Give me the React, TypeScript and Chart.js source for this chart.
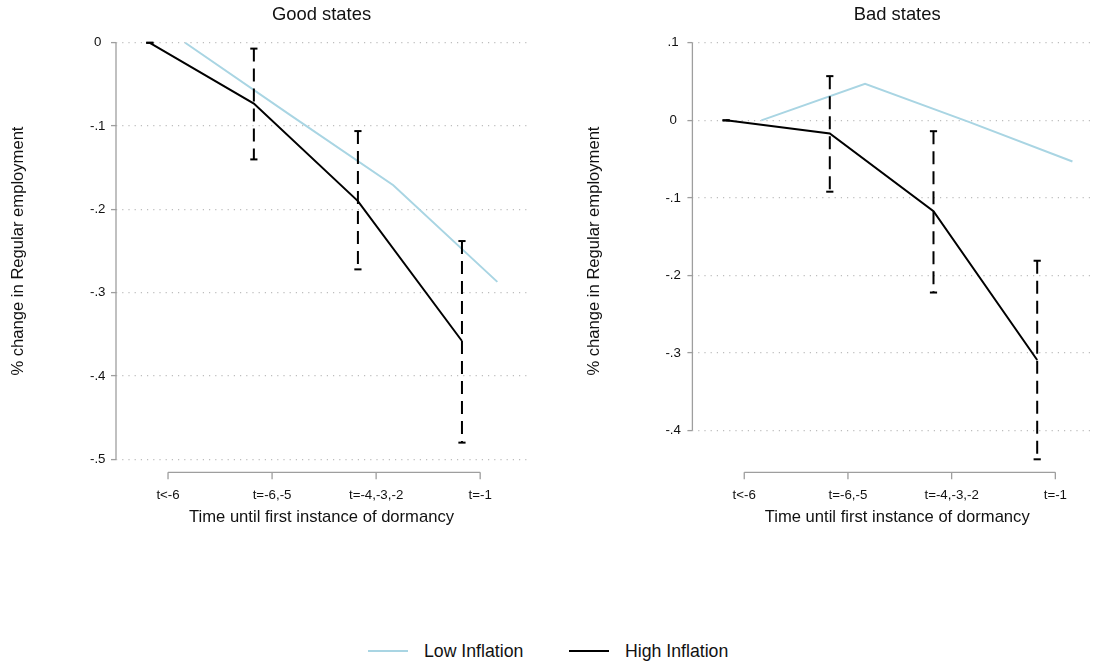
import React, { useEffect, useRef } from "react";
import { Chart, registerables } from "chart.js";

Chart.register(...registerables);

// ---------- data ----------
const categories = ["t<-6", "t=-6,-5", "t=-4,-3,-2", "t=-1"];
const seriesNames = ["Low Inflation", "High Inflation"];
const panelTitles = ["Good states", "Bad states"];
const yAxisTitle = "% change in Regular employment";
const xAxisTitle = "Time until first instance of dormancy";

const goodLow = [0, -0.086, -0.171, -0.287];
const goodHigh = [0, -0.073, -0.19, -0.358];
const goodHighCiLow = [0, -0.14, -0.272, -0.48];
const goodHighCiHigh = [0, -0.007, -0.106, -0.238];
const goodYTicks = [0, -0.1, -0.2, -0.3, -0.4, -0.5];
const goodYTickLabels = ["0", "-.1", "-.2", "-.3", "-.4", "-.5"];

const badLow = [0, 0.047, -0.002, -0.053];
const badHigh = [0, -0.017, -0.117, -0.309];
const badHighCiLow = [0, -0.092, -0.222, -0.437];
const badHighCiHigh = [0, 0.057, -0.014, -0.181];
const badYTicks = [0.1, 0, -0.1, -0.2, -0.3, -0.4];
const badYTickLabels = [".1", "0", "-.1", "-.2", "-.3", "-.4"];

// ---------- style ----------
const FONT = "'Liberation Sans', Arial, sans-serif";
const LIGHT_BLUE = "#a9d5e3";
const BLACK = "#000000";
const AXIS_COLOR = "#9e9e9e";
const GRID_COLOR = "#bdbdbd";
const TEXT_COLOR = "#111111";
const LOW_OFFSET = 0.165;
const HIGH_OFFSET = -0.175;
const CANVAS_H = 540;
const TICK_FONT_SIZE = 13.3;

type PanelSpec = {
  title: string;
  low: number[];
  high: number[];
  ciLow: number[];
  ciHigh: number[];
  yTicks: number[];
  yTickLabels: string[];
  left: number;
  width: number;
  yAxisWidth: number;
  yTitlePad: number;
  yTickPad: number;
  padRight: number;
};

const stataAxes = {
  id: "stataAxes",
  beforeDatasetsDraw(chart: any) {
    const { ctx, chartArea, scales } = chart;
    const x = scales.x;
    const y = scales.y;
    const yv = y.ticks.map((t: any) => t.value);
    const xv = x.ticks.map((t: any) => t.value);
    ctx.save();
    ctx.strokeStyle = AXIS_COLOR;
    ctx.lineWidth = 1.3;
    ctx.setLineDash([]);
    // y axis line spanning tick range
    ctx.beginPath();
    ctx.moveTo(chartArea.left, y.getPixelForValue(Math.max(...yv)));
    ctx.lineTo(chartArea.left, y.getPixelForValue(Math.min(...yv)));
    ctx.stroke();
    // x axis line below plot region, from first to last tick
    const ay = chartArea.bottom + 13;
    ctx.beginPath();
    ctx.moveTo(x.getPixelForValue(Math.min(...xv)), ay);
    ctx.lineTo(x.getPixelForValue(Math.max(...xv)), ay);
    xv.forEach((v: number) => {
      const px = x.getPixelForValue(v);
      ctx.moveTo(px, ay);
      ctx.lineTo(px, ay + 7);
    });
    ctx.stroke();
    ctx.restore();
  },
};

function buildConfig(spec: PanelSpec): any {
  const lowPts = spec.low.map((v, i) => ({ x: i + 1 + LOW_OFFSET, y: v }));
  const highPts = spec.high.map((v, i) => ({ x: i + 1 + HIGH_OFFSET, y: v }));
  const ciSets = spec.ciLow.map((lo, i) => ({
    label: "ci" + i,
    data: [
      { x: i + 1 + HIGH_OFFSET, y: spec.ciHigh[i] },
      { x: i + 1 + HIGH_OFFSET, y: lo },
    ],
    borderColor: BLACK,
    borderWidth: 2,
    borderDash: [13, 7],
    pointStyle: "line",
    pointRadius: 3.6,
    pointBorderWidth: 2,
    pointBorderColor: BLACK,
    pointBackgroundColor: BLACK,
    clip: false,
    tension: 0,
  }));
  const yMin = Math.min(Math.min(...spec.yTicks), ...spec.ciLow);
  const yMax = Math.max(Math.max(...spec.yTicks), ...spec.ciHigh, ...spec.high, ...spec.low);
  return {
    type: "line",
    data: {
      datasets: [
        ...ciSets,
        {
          label: seriesNames[0],
          data: lowPts,
          borderColor: LIGHT_BLUE,
          borderWidth: 2,
          pointRadius: 0,
          clip: false,
          tension: 0,
        },
        {
          label: seriesNames[1],
          data: highPts,
          borderColor: BLACK,
          borderWidth: 2,
          pointRadius: 0,
          clip: false,
          tension: 0,
        },
      ],
    },
    options: {
      animation: false,
      responsive: false,
      maintainAspectRatio: false,
      devicePixelRatio: 1,
      events: [],
      layout: { padding: { left: 0, right: spec.padRight, top: 0, bottom: 0 } },
      plugins: {
        legend: { display: false },
        tooltip: { enabled: false },
        title: {
          display: true,
          text: spec.title,
          fullSize: false,
          color: TEXT_COLOR,
          font: { family: FONT, size: 18.4, weight: "normal", lineHeight: 1.2 },
          padding: { top: 4.2, bottom: 16.5 },
        },
      },
      scales: {
        x: {
          type: "linear",
          min: 0.5,
          max: 4.45,
          grid: { display: false, drawTicks: false },
          border: { display: false },
          afterBuildTicks: (s: any) => {
            s.ticks = categories.map((_, i) => ({ value: i + 1 }));
          },
          ticks: {
            autoSkip: false,
            maxRotation: 0,
            padding: 28.5,
            color: TEXT_COLOR,
            font: { family: FONT, size: TICK_FONT_SIZE, lineHeight: 1.2 },
            callback: (v: any) => categories[Math.round(v) - 1] ?? "",
          },
          title: {
            display: true,
            text: xAxisTitle,
            color: TEXT_COLOR,
            font: { family: FONT, size: 16.6, lineHeight: 1.2 },
            padding: { top: 0, bottom: 13 },
          },
          afterFit: (s: any) => {
            s.height = 80.7;
          },
        },
        y: {
          type: "linear",
          min: yMin,
          max: yMax,
          grid: {
            color: GRID_COLOR,
            lineWidth: 1.2,
            drawTicks: true,
            tickLength: 5,
            tickColor: AXIS_COLOR,
            tickWidth: 1.3,
            tickBorderDash: [],
          },
          border: { display: false, dash: [1.2, 5] },
          afterBuildTicks: (s: any) => {
            s.ticks = spec.yTicks.map((v) => ({ value: v }));
          },
          ticks: {
            autoSkip: false,
            crossAlign: "center",
            padding: spec.yTickPad,
            color: TEXT_COLOR,
            font: { family: FONT, size: TICK_FONT_SIZE, lineHeight: 1.2 },
            callback: (v: any) => {
              const idx = spec.yTicks.findIndex((t) => Math.abs(t - v) < 1e-9);
              return idx >= 0 ? spec.yTickLabels[idx] : "";
            },
          },
          title: {
            display: true,
            text: yAxisTitle,
            color: TEXT_COLOR,
            font: { family: FONT, size: 16.6, lineHeight: 1.2 },
            padding: { top: spec.yTitlePad, bottom: 0 },
          },
          afterFit: (s: any) => {
            s.width = spec.yAxisWidth;
          },
        },
      },
    },
    plugins: [stataAxes],
  };
}

function Panel({ spec }: { spec: PanelSpec }) {
  const ref = useRef<HTMLCanvasElement | null>(null);
  useEffect(() => {
    if (!ref.current) return;
    const chart = new Chart(ref.current, buildConfig(spec));
    return () => chart.destroy();
  }, [spec]);
  return (
    <canvas
      ref={ref}
      width={spec.width}
      height={CANVAS_H}
      style={{ position: "absolute", left: spec.left, top: 0, width: spec.width, height: CANVAS_H }}
    />
  );
}

const goodSpec: PanelSpec = {
  title: panelTitles[0],
  low: goodLow,
  high: goodHigh,
  ciLow: goodHighCiLow,
  ciHigh: goodHighCiHigh,
  yTicks: goodYTicks,
  yTickLabels: goodYTickLabels,
  left: 0,
  width: 547,
  yAxisWidth: 116,
  yTitlePad: 8,
  yTickPad: 5.5,
  padRight: 20,
};

const badSpec: PanelSpec = {
  title: panelTitles[1],
  low: badLow,
  high: badHigh,
  ciLow: badHighCiLow,
  ciHigh: badHighCiHigh,
  yTicks: badYTicks,
  yTickLabels: badYTickLabels,
  left: 547,
  width: 561,
  yAxisWidth: 145.4,
  yTitlePad: 37.6,
  yTickPad: 6.5,
  padRight: 0,
};

export default function App() {
  const legendColors = [LIGHT_BLUE, BLACK];
  const legendLineX = [368, 569];
  const legendTextX = [424, 625];
  return (
    <div
      style={{
        position: "absolute",
        left: 0,
        top: 0,
        width: 1094,
        height: 667,
        overflow: "hidden",
        background: "#ffffff",
      }}
    >
      <Panel spec={goodSpec} />
      <Panel spec={badSpec} />
      {seriesNames.map((name, i) => (
        <React.Fragment key={name}>
          <div
            style={{
              position: "absolute",
              left: legendLineX[i],
              top: 650,
              width: 40,
              height: 2,
              background: legendColors[i],
            }}
          />
          <div
            style={{
              position: "absolute",
              left: legendTextX[i],
              top: 640,
              height: 22,
              lineHeight: "22px",
              fontFamily: FONT,
              fontSize: 17.7,
              color: TEXT_COLOR,
              whiteSpace: "nowrap",
            }}
          >
            {name}
          </div>
        </React.Fragment>
      ))}
    </div>
  );
}
